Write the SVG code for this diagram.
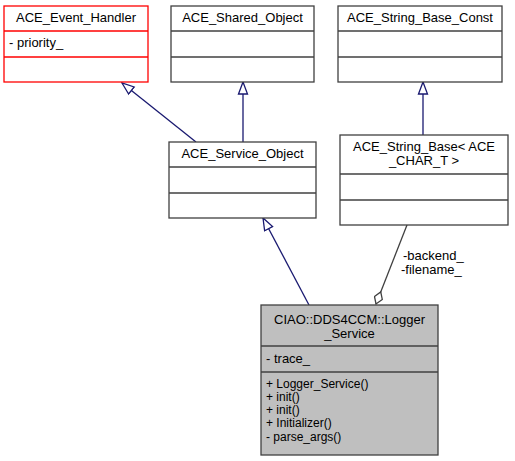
<svg xmlns="http://www.w3.org/2000/svg" width="515" height="461" viewBox="0 0 515 461">
<style>
text{font-family:"Liberation Sans",Arial,sans-serif;font-size:13px;fill:#000}
.c{text-anchor:middle}
.m{font-size:12px}
.box{fill:#fff;stroke:#404040;stroke-width:1.3}
.red{fill:#fff;stroke:#ff0000;stroke-width:1.3}
.gray{fill:#bfbfbf;stroke:#404040;stroke-width:1.3}
.div{stroke:#404040;stroke-width:1.3}
.divr{stroke:#ff0000;stroke-width:1.3}
.inh{fill:none;stroke:#191970;stroke-width:1.3}
.comp{fill:none;stroke:#404040;stroke-width:1.3}
</style>
<defs>
<marker id="tri" viewBox="0 0 14 12" refX="13" refY="6" markerWidth="14" markerHeight="12" markerUnits="userSpaceOnUse" orient="auto">
<path d="M1,1.5 L13,6 L1,10.5 Z" fill="#fff" stroke="#191970" stroke-width="1.3"/>
</marker>
<marker id="dia" viewBox="0 0 15 10" refX="14" refY="5" markerWidth="15" markerHeight="10" markerUnits="userSpaceOnUse" orient="auto">
<path d="M1,5 L7.5,0.8 L14,5 L7.5,9.2 Z" fill="#fff" stroke="#404040" stroke-width="1.3"/>
</marker>
</defs>
<g id="edges">
<path class="inh" d="M196,142 L122,83" marker-end="url(#tri)"/>
<path class="inh" d="M243,142 L243,82" marker-end="url(#tri)"/>
<path class="inh" d="M423,135 L423,82" marker-end="url(#tri)"/>
<path class="inh" d="M309,305 L263,218" marker-end="url(#tri)"/>
<path class="comp" d="M407,225 L376,304" marker-end="url(#dia)"/>
<text x="403" y="260">-backend_</text>
<text x="401" y="274">-filename_</text>
</g>
<g id="ACE_Event_Handler">
<rect class="red" x="4" y="6" width="144" height="76"/>
<line class="divr" x1="4" y1="31" x2="148" y2="31"/>
<line class="divr" x1="4" y1="57" x2="148" y2="57"/>
<text class="c" x="76" y="22">ACE_Event_Handler</text>
<text x="9" y="47">- priority_</text>
</g>
<g id="ACE_Shared_Object">
<rect class="box" x="171" y="6" width="143" height="76"/>
<line class="div" x1="171" y1="31" x2="314" y2="31"/>
<line class="div" x1="171" y1="57" x2="314" y2="57"/>
<text class="c" x="242.5" y="22">ACE_Shared_Object</text>
</g>
<g id="ACE_String_Base_Const">
<rect class="box" x="338" y="6" width="164" height="76"/>
<line class="div" x1="338" y1="31" x2="502" y2="31"/>
<line class="div" x1="338" y1="57" x2="502" y2="57"/>
<text class="c" x="420" y="22">ACE_String_Base_Const</text>
</g>
<g id="ACE_Service_Object">
<rect class="box" x="169" y="142" width="147" height="76"/>
<line class="div" x1="169" y1="167" x2="316" y2="167"/>
<line class="div" x1="169" y1="193" x2="316" y2="193"/>
<text class="c" x="242.5" y="158">ACE_Service_Object</text>
</g>
<g id="ACE_String_Base">
<rect class="box" x="340" y="135" width="168" height="90"/>
<line class="div" x1="340" y1="174" x2="508" y2="174"/>
<line class="div" x1="340" y1="200" x2="508" y2="200"/>
<text class="c" x="424" y="151">ACE_String_Base&lt; ACE</text>
<text class="c" x="424" y="165">_CHAR_T &gt;</text>
</g>
<g id="Logger_Service">
<rect class="gray" x="261" y="305" width="177" height="150"/>
<line class="div" x1="261" y1="346" x2="438" y2="346"/>
<line class="div" x1="261" y1="372" x2="438" y2="372"/>
<text class="c" x="349.5" y="324">CIAO::DDS4CCM::Logger</text>
<text class="c" x="349.5" y="338">_Service</text>
<text x="266" y="363">- trace_</text>
<text class="m" x="266" y="388">+ Logger_Service()</text>
<text class="m" x="266" y="401">+ init()</text>
<text class="m" x="266" y="414">+ init()</text>
<text class="m" x="266" y="427">+ Initializer()</text>
<text class="m" x="266" y="441">- parse_args()</text>
</g>
</svg>
